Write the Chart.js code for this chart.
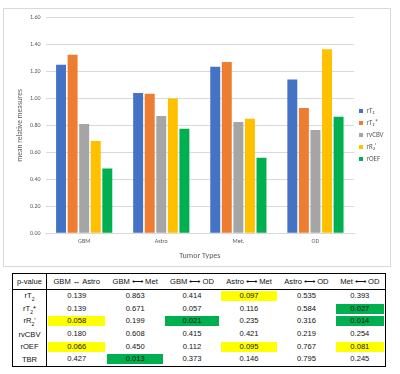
<!DOCTYPE html>
<html>
<head>
<meta charset="utf-8">
<script src="https://cdn.jsdelivr.net/npm/chart.js@4"></script>
<style>
  body { margin: 0; background: #fff; }
  #page { position: relative; width: 400px; height: 374px; overflow: hidden; }
  #chartBox { position: absolute; left: 3px; top: 8px; width: 386px; height: 257px; border: 1px solid #d9d9d9; }
  #tbl { position: absolute; left: 12px; top: 273px; width: 374px; border-collapse: collapse; border: 1.5px solid #000;
         font-family: "Liberation Sans", Arial, sans-serif; font-size: 7.6px; color: #111; }
  #tbl th { font-weight: normal; height: 15px; border-bottom: 1.5px solid #000; padding: 0; white-space: nowrap; }
  #tbl td { height: 12.6px; padding: 0; text-align: center; }
  #tbl .lab { border-right: 1.5px solid #000; width: 33px; }
  #tbl .hl { height: 10px; line-height: 10px; margin: 0 1px; }
  #tbl sub { font-size: 5px; }
</style>
</head>
<body>
<div id="page">
  <div id="chartBox"><canvas id="c" width="386" height="257"></canvas></div>
  <table id="tbl"></table>
</div>
<script>
const categories = ["GBM", "Astro", "Met.", "OD"];
const seriesNames = ["rT\u2082", "rT\u2082*", "rvCBV", "rR\u2082'", "rOEF"];
const rT2 = [1.25, 1.04, 1.235, 1.14];
const rT2star = [1.325, 1.035, 1.27, 0.93];
const rvCBV = [0.81, 0.87, 0.825, 0.765];
const rR2prime = [0.685, 1.0, 0.85, 1.365];
const rOEF = [0.48, 0.775, 0.56, 0.865];
const colors = ["#4472C4", "#ED7D31", "#A5A5A5", "#FFC000", "#00B050"];

// p-value table
const pairs = ["GBM \u2194 Astro", "GBM \u27F7 Met", "GBM \u27F7 OD", "Astro \u27F7 Met", "Astro \u27F7 OD", "Met \u27F7 OD"];
const rowLabels = ["rT<sub>2</sub>", "rT<sub>2</sub>*", "rR<sub>2</sub>'", "rvCBV", "rOEF", "TBR"];
const pT2 = ["0.139", "0.863", "0.414", "0.097", "0.535", "0.393"];
const pT2star = ["0.139", "0.671", "0.057", "0.116", "0.584", "0.027"];
const pR2prime = ["0.058", "0.199", "0.021", "0.235", "0.316", "0.014"];
const pCBV = ["0.180", "0.608", "0.415", "0.421", "0.219", "0.254"];
const pOEF = ["0.066", "0.450", "0.112", "0.095", "0.767", "0.081"];
const pTBR = ["0.427", "0.013", "0.373", "0.146", "0.795", "0.245"];
// [row, col, colour]
const marks = [[0, 3, "y"], [1, 5, "g"], [2, 0, "y"], [2, 2, "g"], [2, 5, "g"], [4, 0, "y"], [4, 3, "y"], [4, 5, "y"], [5, 1, "g"]];

const pRows = [pT2, pT2star, pR2prime, pCBV, pOEF, pTBR];
let html = "<tr><th class='lab'>p-value</th>" + pairs.map(p => "<th>" + p + "</th>").join("") + "</tr>";
pRows.forEach((row, i) => {
  html += "<tr><td class='lab'>" + rowLabels[i] + "</td>";
  row.forEach((v, j) => {
    const m = marks.find(k => k[0] === i && k[1] === j);
    const bg = m ? (m[2] === "y" ? "#FFFF00" : "#00B050") : "transparent";
    html += "<td><div class='hl' style='background:" + bg + "'>" + v + "</div></td>";
  });
  html += "</tr>";
});
document.getElementById("tbl").innerHTML = html;

const values = [rT2, rT2star, rvCBV, rR2prime, rOEF];
const font = "Calibri, 'Liberation Sans', Arial, sans-serif";

new Chart(document.getElementById("c"), {
  type: "bar",
  data: {
    labels: categories,
    datasets: values.map((d, i) => ({
      label: seriesNames[i],
      data: d,
      backgroundColor: colors[i],
      categoryPercentage: 0.75,
      barPercentage: 0.86
    }))
  },
  options: {
    responsive: false,
    animation: false,
    layout: { padding: { top: 0, right: 0, left: 12, bottom: 5 } },
    plugins: {
      legend: {
        position: "right",
        maxWidth: 36,
        labels: { boxWidth: 4, boxHeight: 4, padding: 5, color: "#595959", font: { size: 7, family: font } }
      },
      tooltip: { enabled: false }
    },
    scales: {
      x: {
        grid: { display: false, drawTicks: false },
        border: { color: "#d9d9d9" },
        ticks: { color: "#595959", font: { size: 6, family: font }, padding: 5 },
        title: { display: true, text: "Tumor Types", color: "#595959", font: { size: 8, family: font }, padding: { top: 1, bottom: 0 } }
      },
      y: {
        min: 0, max: 1.6,
        grid: { color: "#d9d9d9", drawTicks: false },
        border: { display: false },
        ticks: { stepSize: 0.2, color: "#595959", font: { size: 6, family: font }, padding: 5,
                 callback: v => v.toFixed(2) },
        title: { display: true, text: "mean relative measures", color: "#595959", font: { size: 7.5, family: font }, padding: 0 }
      }
    }
  }
});
</script>
</body>
</html>
